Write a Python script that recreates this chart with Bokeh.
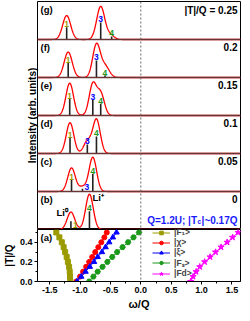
import numpy as np
from bokeh.plotting import figure
from bokeh.models import (Range1d, Span, Label, FixedTicker, PrintfTickFormatter, Title)
from bokeh.layouts import column
from bokeh.embed import file_html
from bokeh.resources import INLINE
from bokeh.core.properties import value

# ---------------- data ----------------
panel_tags = ["(b)", "(c)", "(d)", "(e)", "(f)", "(g)"]
panel_T_labels = ["0", "0.05", "0.1", "0.15", "0.2", "|T|/Q = 0.25"]

# sticks (omega/Q, relative height within a panel)
stick_ids = [["1", "4"], ["1", "3", "4"], ["1", "3", "4"],
             ["1", "3", "4"], ["1", "3", "4"], ["1", "3", "4"]]
stick_omega = [[-1.15, -0.845], [-1.14, -0.96, -0.79], [-1.165, -0.88, -0.73],
               [-1.17, -0.79, -0.66], [-1.195, -0.73, -0.59], [-1.22, -0.66, -0.48]]
stick_height = [[0.22, 0.48], [0.31, 0.07, 0.47], [0.42, 0.24, 0.45],
                [0.44, 0.42, 0.31], [0.38, 0.45, 0.05], [0.32, 0.45, 0.08]]

# broadened spectrum peaks (centre, amplitude, width)
peak_center = [[-1.15, -0.845], [-1.14, -0.96, -0.79], [-1.165, -0.88, -0.73],
               [-1.17, -0.79, -0.66], [-1.195, -0.73, -0.59], [-1.22, -0.66, -0.50]]
peak_amp = [[0.46, 0.93], [0.62, 0.12, 0.90], [0.81, 0.32, 0.90],
            [0.85, 0.82, 0.57], [0.67, 0.86, 0.30], [0.63, 0.87, 0.12]]
peak_width = [[0.062, 0.062], [0.062, 0.06, 0.062], [0.062, 0.06, 0.062],
              [0.062, 0.06, 0.06], [0.066, 0.062, 0.07], [0.066, 0.066, 0.06]]

# panel (a): eigen-energies vs |T|/Q
T_values = [0.0, 0.05, 0.10, 0.15, 0.20, 0.25, 0.30, 0.35, 0.40, 0.45, 0.50]
omega_F1 = [-1.16, -1.165, -1.17, -1.18, -1.20, -1.22, -1.245, -1.27, -1.30, -1.34, -1.39]
omega_chi = [-1.06, -1.00, -0.95, -0.90, -0.85, -0.80, -0.75, -0.70, -0.65, -0.60, -0.56]
omega_xi = [-1.05, -0.98, -0.91, -0.84, -0.77, -0.71, -0.64, -0.58, -0.52, -0.46, -0.40]
omega_Fs = [-0.85, -0.78, -0.71, -0.63, -0.55, -0.47, -0.39, -0.30, -0.21, -0.12, -0.03]
omega_Fd = [0.82, 0.86, 0.91, 0.97, 1.05, 1.14, 1.23, 1.32, 1.42, 1.51, 1.60]
series_labels = ["|F\u2081>", "|\u03c7>", "|\u03be>", "|F\u209b>", "|Fd>"]

x_ticks = [-1.5, -1.0, -0.5, 0.0, 0.5, 1.0, 1.5]
y_ticks = [0.0, 0.2, 0.4]

# ---------------- styles ----------------
FONT = value("Liberation Sans")
id_colors = {"1": "#9b9b00", "3": "#0000ff", "4": "#1a991a"}
series_colors = ["#9b9b00", "#ff0000", "#0000ff", "#1a991a", "#ff00ff"]
series_markers = ["square", "circle", "triangle", "hex", "star"]
series_sizes = [5, 5, 5.5, 5.5, 6.5]
side_label = [[True, False], [False, True, False], [False, False, False],
              [False, False, False], [False, False, False], [False, False, False]]

xr = Range1d(-1.70, 1.64)
W = 241
BL = 32

# ---------------- spectra figure ----------------
p1 = figure(width=W, height=229, x_range=xr, y_range=Range1d(0, 6),
            x_axis_type=None, y_axis_type=None, toolbar_location=None,
            output_backend="svg", min_border_left=BL, min_border_right=1,
            min_border_top=1, min_border_bottom=0)
p1.outline_line_color = "black"
p1.outline_line_width = 1

ttl = Title(text="Intensity (arb. units)", align="center", offset=-43,
            text_font="Liberation Sans", text_font_style="bold",
            text_font_size="10px", text_color="black", standoff=0)
p1.add_layout(ttl, "left")

xs = np.linspace(-1.70, 1.64, 700)
for i in range(6):
    ys = np.full_like(xs, float(i))
    for c, a, w in zip(peak_center[i], peak_amp[i], peak_width[i]):
        ys = ys + a * np.exp(-(xs - c) ** 2 / (2 * w * w))
    p1.line(xs, ys, line_color="#ff0000", line_width=1.3)

# sticks
sx, sy0, sy1 = [], [], []
lx, ly, lt, lc = [], [], [], []
lx_side, ly_side, lt_side, lc_side = [], [], [], []
for i in range(6):
    for sid, om, h, side in zip(stick_ids[i], stick_omega[i], stick_height[i], side_label[i]):
        sx.append(om); sy0.append(float(i)); sy1.append(i + h)
        if side:
            lx_side.append(om); ly_side.append(float(i)); lt_side.append(sid)
            lc_side.append(id_colors[sid])
        else:
            lx.append(om); ly.append(i + h); lt.append(sid); lc.append(id_colors[sid])
p1.segment(x0=sx, y0=sy0, x1=sx, y1=sy1, line_color="#222222", line_width=1.6)
p1.text(x=lx, y=ly, text=lt, text_color=lc, text_font=FONT, text_font_style="bold",
        text_font_size="8.5px", text_align="center", text_baseline="bottom", y_offset=0)
p1.text(x=lx_side, y=ly_side, text=lt_side, text_color=lc_side, text_font=FONT,
        text_font_style="bold", text_font_size="8.5px", text_align="left",
        text_baseline="bottom", x_offset=2, y_offset=-2)

# panel separators
for i in range(1, 6):
    p1.add_layout(Span(location=i, dimension="width", line_color="#6a3535", line_width=1.4))
p1.add_layout(Span(location=0, dimension="height", line_color="#666666",
                   line_dash="2 2", line_width=1))

# panel tags & T labels
tops = [i + 1.0 for i in range(6)]
p1.text(x=[xr.start] * 6, y=tops, text=panel_tags, text_font=FONT, text_font_style="bold",
        text_font_size="9.5px", text_baseline="top", text_align="left",
        x_offset=3, y_offset=2, text_color="black")
p1.text(x=[xr.end] * 6, y=tops, text=panel_T_labels, text_font=FONT, text_font_style="bold",
        text_font_size="10px", text_baseline="top", text_align="right",
        x_offset=-3, y_offset=3, text_color="black")

# Li labels
p1.text(x=[-1.20], y=[0.30], text=["Li\u2070"], text_font=FONT, text_font_style="bold",
        text_font_size="9.5px", text_align="right", text_baseline="bottom", text_color="black")
p1.text(x=[-0.795], y=[0.71], text=["Li\u207a"], text_font=FONT, text_font_style="bold",
        text_font_size="9.5px", text_align="left", text_baseline="bottom", text_color="black")

# parameter text  (Q=1.2U; |T_c|~0.17Q)
qfs = 10
qy = 0.24
wC = 3.59 * qfs
wB = 0.556 * 6.5
p1.text(x=[xr.end], y=[qy], text=["|~0.17Q"], text_font=FONT, text_font_style="bold",
        text_font_size=f"{qfs}px", text_align="right", text_baseline="alphabetic",
        x_offset=-3, text_color="#1a1aff")
p1.text(x=[xr.end], y=[qy], text=["c"], text_font=FONT, text_font_style="bold",
        text_font_size="6.5px", text_align="right", text_baseline="alphabetic",
        x_offset=-3.5 - wC, y_offset=1.5, text_color="#1a1aff")
p1.text(x=[xr.end], y=[qy], text=["Q=1.2U; |T"], text_font=FONT, text_font_style="bold",
        text_font_size=f"{qfs}px", text_align="right", text_baseline="alphabetic",
        x_offset=-4 - wC - wB, text_color="#1a1aff")

# ---------------- panel (a) ----------------
p2 = figure(width=W, height=84, x_range=xr, y_range=Range1d(0, 0.53),
            toolbar_location=None, output_backend="svg", min_border_left=BL,
            min_border_right=1, min_border_top=0, min_border_bottom=32)
p2.outline_line_color = "black"
p2.grid.visible = False

all_series = [omega_F1, omega_chi, omega_xi, omega_Fs, omega_Fd]
for om, col, mk, sz, lab in zip(all_series, series_colors, series_markers, series_sizes,
                                series_labels):
    p2.line(om, T_values, line_color=col, line_width=1, legend_label=lab)
    p2.scatter(om, T_values, marker=mk, size=sz, fill_color=col, line_color=col,
               legend_label=lab)

p2.add_layout(Span(location=0, dimension="height", line_color="#666666",
                   line_dash="2 2", line_width=1))

p2.xaxis.ticker = FixedTicker(ticks=x_ticks,
                              minor_ticks=[-1.75, -1.25, -0.75, -0.25, 0.25, 0.75, 1.25])
p2.yaxis.ticker = FixedTicker(ticks=y_ticks, minor_ticks=[0.1, 0.3, 0.5])
p2.xaxis.formatter = PrintfTickFormatter(format="%.1f")
p2.yaxis.formatter = PrintfTickFormatter(format="%.1f")
for ax in (p2.xaxis[0], p2.yaxis[0]):
    ax.major_label_text_font = "Liberation Sans"
    ax.major_label_text_font_style = "bold"
    ax.major_label_text_font_size = "9px"
    ax.major_label_text_color = "black"
    ax.axis_label_text_font = "Liberation Sans"
    ax.axis_label_text_font_style = "bold"
    ax.axis_label_text_color = "black"
    ax.major_tick_out = 3
    ax.major_tick_in = 0
    ax.minor_tick_out = 2
    ax.minor_tick_in = 0
    ax.major_label_standoff = 2
    ax.axis_label_standoff = 2
    ax.axis_line_color = "black"
    ax.major_tick_line_color = "black"
    ax.minor_tick_line_color = "black"
p2.xaxis.axis_label = "\u03c9/Q"
p2.xaxis.axis_label_text_font_size = "11px"
p2.yaxis.axis_label = "|T|/Q"
p2.yaxis.axis_label_text_font_size = "10px"

p2.add_layout(Label(x=xr.start, y=0.53, text="(a)", x_offset=3, y_offset=-2,
                    text_baseline="top", text_font="Liberation Sans",
                    text_font_style="bold", text_font_size="9.5px", text_color="black"))

leg = p2.legend[0]
leg.location = (114, 2)
leg.glyph_height = 9
leg.label_height = 9
leg.glyph_width = 18
leg.spacing = 0
leg.padding = 1
leg.margin = 0
leg.label_standoff = 4
leg.label_text_font = "Liberation Sans"
leg.label_text_font_style = "bold"
leg.label_text_font_size = "8.5px"
leg.background_fill_alpha = 0
leg.border_line_alpha = 0

layout = column(p1, p2)
open("out.html", "w").write(file_html(layout, INLINE))
